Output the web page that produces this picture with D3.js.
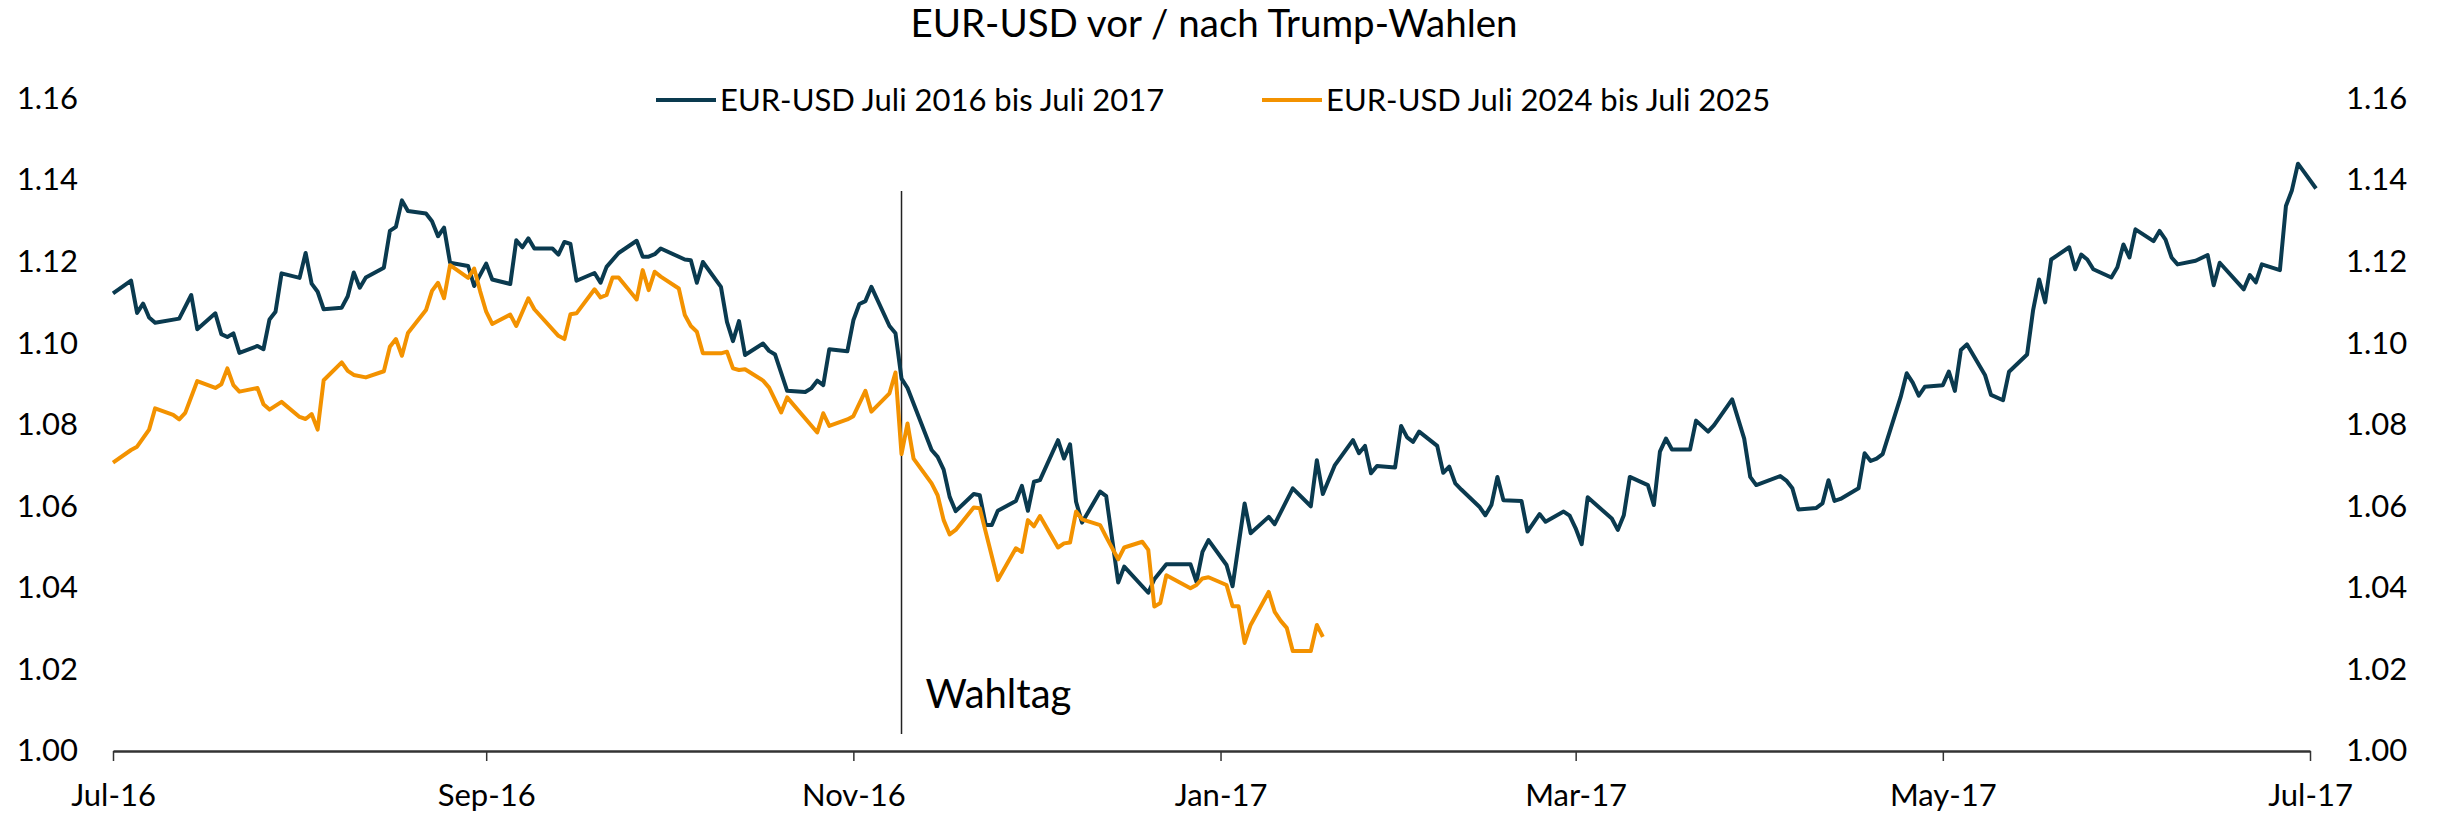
<!DOCTYPE html>
<html>
<head>
<meta charset="utf-8">
<script src="https://cdn.jsdelivr.net/npm/d3@7"></script>
<style>
  body { margin: 0; background: #fff; }
  svg { display: block; font-family: Lato, "Open Sans", sans-serif; }
</style>
</head>
<body>
<div id="chart"></div>
<script>
// EUR-USD Juli 2016 bis Juli 2017 (Handelstage)
const dates2016 = [
  "2016-07-01","2016-07-04","2016-07-05","2016-07-06","2016-07-07","2016-07-08","2016-07-12","2016-07-14","2016-07-15","2016-07-18",
  "2016-07-19","2016-07-20","2016-07-21","2016-07-22","2016-07-25","2016-07-26","2016-07-27","2016-07-28","2016-07-29","2016-08-01",
  "2016-08-02","2016-08-03","2016-08-04","2016-08-05","2016-08-08","2016-08-09","2016-08-10","2016-08-11","2016-08-12","2016-08-15",
  "2016-08-16","2016-08-17","2016-08-18","2016-08-19","2016-08-22","2016-08-23","2016-08-24","2016-08-25","2016-08-26","2016-08-29",
  "2016-08-30","2016-09-01","2016-09-02","2016-09-05","2016-09-06","2016-09-07","2016-09-08","2016-09-09","2016-09-12","2016-09-13",
  "2016-09-14","2016-09-15","2016-09-16","2016-09-19","2016-09-20","2016-09-21","2016-09-23","2016-09-26","2016-09-27","2016-09-28",
  "2016-09-29","2016-09-30","2016-10-04","2016-10-05","2016-10-06","2016-10-07","2016-10-10","2016-10-11","2016-10-12","2016-10-13",
  "2016-10-14","2016-10-17","2016-10-18","2016-10-19","2016-10-21","2016-10-24","2016-10-25","2016-10-26","2016-10-27","2016-10-28",
  "2016-10-31","2016-11-01","2016-11-02","2016-11-03","2016-11-04","2016-11-07","2016-11-08","2016-11-09","2016-11-10","2016-11-14",
  "2016-11-15","2016-11-16","2016-11-17","2016-11-18","2016-11-21","2016-11-22","2016-11-23","2016-11-24","2016-11-25","2016-11-28",
  "2016-11-29","2016-11-30","2016-12-01","2016-12-02","2016-12-05","2016-12-06","2016-12-07","2016-12-08","2016-12-09","2016-12-12",
  "2016-12-13","2016-12-15","2016-12-16","2016-12-20","2016-12-21","2016-12-23","2016-12-27","2016-12-28","2016-12-29","2016-12-30",
  "2017-01-02","2017-01-03","2017-01-05","2017-01-06","2017-01-09","2017-01-10","2017-01-13","2017-01-16","2017-01-17","2017-01-18",
  "2017-01-20","2017-01-23","2017-01-24","2017-01-25","2017-01-26","2017-01-27","2017-01-30","2017-01-31","2017-02-01","2017-02-02",
  "2017-02-03","2017-02-06","2017-02-07","2017-02-08","2017-02-09","2017-02-10","2017-02-13","2017-02-14","2017-02-15","2017-02-16",
  "2017-02-17","2017-02-20","2017-02-21","2017-02-23","2017-02-24","2017-02-27","2017-02-28","2017-03-01","2017-03-02","2017-03-03",
  "2017-03-07","2017-03-08","2017-03-09","2017-03-10","2017-03-13","2017-03-14","2017-03-15","2017-03-16","2017-03-17","2017-03-20",
  "2017-03-21","2017-03-23","2017-03-24","2017-03-27","2017-03-29","2017-03-30","2017-03-31","2017-04-04","2017-04-05","2017-04-06",
  "2017-04-07","2017-04-10","2017-04-11","2017-04-12","2017-04-13","2017-04-14","2017-04-17","2017-04-18","2017-04-19","2017-04-20",
  "2017-04-21","2017-04-24","2017-04-25","2017-04-26","2017-04-27","2017-04-28","2017-05-01","2017-05-02","2017-05-03","2017-05-04",
  "2017-05-05","2017-05-08","2017-05-09","2017-05-11","2017-05-12","2017-05-15","2017-05-16","2017-05-17","2017-05-18","2017-05-19",
  "2017-05-22","2017-05-23","2017-05-24","2017-05-25","2017-05-26","2017-05-29","2017-05-30","2017-05-31","2017-06-01","2017-06-02",
  "2017-06-05","2017-06-06","2017-06-07","2017-06-08","2017-06-09","2017-06-12","2017-06-14","2017-06-15","2017-06-16","2017-06-20",
  "2017-06-21","2017-06-22","2017-06-23","2017-06-26","2017-06-27","2017-06-28","2017-06-29","2017-06-30","2017-07-02"
];
const values2016 = [
  1.1122,1.1153,1.1074,1.1097,1.1063,1.1050,1.1060,1.1118,1.1034,1.1073,
  1.1022,1.1015,1.1024,1.0976,1.0993,1.0985,1.1058,1.1077,1.1171,1.1160,
  1.1221,1.1146,1.1126,1.1083,1.1087,1.1115,1.1173,1.1136,1.1161,1.1185,
  1.1275,1.1285,1.1350,1.1324,1.1318,1.1299,1.1262,1.1283,1.1197,1.1189,
  1.1140,1.1195,1.1156,1.1145,1.1252,1.1235,1.1257,1.1232,1.1232,1.1217,
  1.1248,1.1243,1.1153,1.1172,1.1148,1.1187,1.1221,1.1251,1.1212,1.1212,
  1.1218,1.1232,1.1205,1.1203,1.1148,1.1199,1.1138,1.1052,1.1005,1.1054,
  1.0971,1.0999,1.0981,1.0972,1.0883,1.0880,1.0889,1.0908,1.0897,1.0985,
  1.0980,1.1056,1.1096,1.1103,1.1138,1.1042,1.1024,1.0913,1.0890,1.0738,
  1.0721,1.0690,1.0623,1.0588,1.0630,1.0627,1.0554,1.0554,1.0589,1.0613,
  1.0650,1.0589,1.0660,1.0664,1.0762,1.0717,1.0752,1.0611,1.0560,1.0636,
  1.0625,1.0413,1.0452,1.0388,1.0421,1.0458,1.0458,1.0415,1.0488,1.0517,
  1.0456,1.0404,1.0607,1.0534,1.0574,1.0556,1.0644,1.0600,1.0713,1.0630,
  1.0701,1.0762,1.0730,1.0748,1.0681,1.0699,1.0695,1.0797,1.0769,1.0758,
  1.0783,1.0748,1.0682,1.0697,1.0656,1.0641,1.0599,1.0578,1.0603,1.0672,
  1.0615,1.0613,1.0538,1.0581,1.0562,1.0587,1.0577,1.0546,1.0507,1.0622,
  1.0570,1.0542,1.0578,1.0672,1.0652,1.0603,1.0734,1.0766,1.0739,1.0739,
  1.0810,1.0783,1.0799,1.0862,1.0766,1.0672,1.0652,1.0674,1.0663,1.0644,
  1.0592,1.0596,1.0607,1.0664,1.0613,1.0618,1.0644,1.0730,1.0711,1.0717,
  1.0728,1.0868,1.0926,1.0903,1.0871,1.0893,1.0897,1.0930,1.0883,1.0983,
  1.0997,1.0922,1.0873,1.0860,1.0930,1.0972,1.1081,1.1156,1.1100,1.1205,
  1.1235,1.1181,1.1217,1.1205,1.1181,1.1161,1.1186,1.1242,1.1210,1.1279,
  1.1250,1.1275,1.1254,1.1210,1.1193,1.1202,1.1216,1.1142,1.1197,1.1132,
  1.1167,1.1149,1.1193,1.1179,1.1336,1.1375,1.1440,1.1420,1.1379
];

// EUR-USD Juli 2024 bis Juli 2025 (bisher bis Mitte Januar)
const dates2024 = [
  "2024-07-01","2024-07-04","2024-07-05","2024-07-07","2024-07-08","2024-07-11","2024-07-12","2024-07-13","2024-07-15","2024-07-18",
  "2024-07-19","2024-07-20","2024-07-21","2024-07-22","2024-07-25","2024-07-26","2024-07-27","2024-07-29","2024-08-01","2024-08-02",
  "2024-08-03","2024-08-04","2024-08-05","2024-08-08","2024-08-09","2024-08-10","2024-08-12","2024-08-15","2024-08-16","2024-08-17",
  "2024-08-18","2024-08-19","2024-08-22","2024-08-23","2024-08-24","2024-08-25","2024-08-26","2024-08-29","2024-08-30","2024-08-31",
  "2024-09-01","2024-09-02","2024-09-05","2024-09-06","2024-09-08","2024-09-09","2024-09-13","2024-09-14","2024-09-15","2024-09-16",
  "2024-09-19","2024-09-20","2024-09-21","2024-09-22","2024-09-23","2024-09-26","2024-09-27","2024-09-28","2024-09-29","2024-09-30",
  "2024-10-03","2024-10-04","2024-10-05","2024-10-06","2024-10-07","2024-10-10","2024-10-11","2024-10-12","2024-10-13","2024-10-14",
  "2024-10-17","2024-10-18","2024-10-20","2024-10-21","2024-10-26","2024-10-27","2024-10-28","2024-10-31","2024-11-01","2024-11-03",
  "2024-11-04","2024-11-07","2024-11-08","2024-11-09","2024-11-10","2024-11-11","2024-11-14","2024-11-15","2024-11-16","2024-11-17",
  "2024-11-18","2024-11-21","2024-11-22","2024-11-25","2024-11-28","2024-11-29","2024-11-30","2024-12-01","2024-12-02","2024-12-05",
  "2024-12-06","2024-12-07","2024-12-08","2024-12-09","2024-12-12","2024-12-13","2024-12-15","2024-12-16","2024-12-19","2024-12-20",
  "2024-12-21","2024-12-22","2024-12-23","2024-12-27","2024-12-28","2024-12-29","2024-12-30","2025-01-02","2025-01-03","2025-01-04",
  "2025-01-05","2025-01-06","2025-01-09","2025-01-10","2025-01-11","2025-01-12","2025-01-13","2025-01-16","2025-01-17","2025-01-18"
];
const values2024 = [
  1.0707,1.0738,1.0746,1.0788,1.0840,1.0824,1.0813,1.0829,1.0907,1.0890,
  1.0899,1.0938,1.0897,1.0881,1.0890,1.0850,1.0837,1.0856,1.0819,1.0814,
  1.0826,1.0788,1.0909,1.0953,1.0932,1.0922,1.0916,1.0931,1.0991,1.1010,
  1.0969,1.1025,1.1081,1.1128,1.1148,1.1110,1.1191,1.1160,1.1183,1.1127,
  1.1077,1.1047,1.1070,1.1042,1.1110,1.1083,1.1018,1.1010,1.1071,1.1073,
  1.1132,1.1112,1.1118,1.1161,1.1161,1.1107,1.1179,1.1130,1.1175,1.1163,
  1.1134,1.1069,1.1042,1.1028,1.0975,1.0975,1.0979,1.0938,1.0934,1.0936,
  1.0908,1.0891,1.0830,1.0867,1.0781,1.0828,1.0797,1.0813,1.0821,1.0883,
  1.0832,1.0877,1.0928,1.0728,1.0803,1.0717,1.0656,1.0627,1.0566,1.0531,
  1.0542,1.0597,1.0595,1.0419,1.0497,1.0488,1.0566,1.0551,1.0576,1.0499,
  1.0509,1.0511,1.0587,1.0568,1.0554,1.0525,1.0470,1.0499,1.0513,1.0493,
  1.0354,1.0363,1.0431,1.0399,1.0407,1.0423,1.0426,1.0407,1.0355,1.0355,
  1.0265,1.0309,1.0390,1.0341,1.0319,1.0302,1.0245,1.0245,1.0309,1.0280
];

const seriesNames = ["EUR-USD Juli 2016 bis Juli 2017", "EUR-USD Juli 2024 bis Juli 2025"];
const seriesColors = ["#0a3a4f", "#f39200"];
const yTicks = [1.00, 1.02, 1.04, 1.06, 1.08, 1.10, 1.12, 1.14, 1.16];
const xTickLabels = ["Jul-16", "Sep-16", "Nov-16", "Jan-17", "Mar-17", "May-17", "Jul-17"];
const electionDay = "2016-11-09";
const chartTitle = "EUR-USD vor / nach Trump-Wahlen";

const width = 2438;
const height = 815;

const parse = d3.timeParse("%Y-%m-%d");
const series2016 = dates2016.map((d, i) => ({ date: parse(d), value: values2016[i] }));
// 2024er Werte auf die Zeitachse 2016/17 legen
const series2024 = dates2024.map((d, i) => ({ date: d3.timeYear.offset(parse(d), -8), value: values2024[i] }));

const svg = d3.select("#chart")
    .append("svg")
    .attr("width", width)
    .attr("height", height);

const x = d3.scaleTime()
    .domain([parse("2016-07-01"), parse("2017-07-01")])
    .range([113, 2310]);

const y = d3.scaleLinear()
    .domain([1.00, 1.16])
    .range([751, 98.4]);

// Title
svg.append("text")
    .attr("x", 1214)
    .attr("y", 37)
    .attr("text-anchor", "middle")
    .attr("font-size", 38.5)
    .attr("fill", "#000")
    .text(chartTitle);

// Legend
const legendX = [656, 1262];
seriesNames.forEach((name, i) => {
    const g = svg.append("g").attr("transform", `translate(${legendX[i]}, 100)`);
    g.append("line")
        .attr("x1", 0).attr("x2", 60)
        .attr("stroke", seriesColors[i])
        .attr("stroke-width", 4);
    g.append("text")
        .attr("x", 64)
        .attr("y", 11)
        .attr("font-size", 31)
        .text(name);
});

// y axes (left and right, labels only)
const yLeft = d3.axisLeft(y).tickValues(yTicks).tickFormat(d3.format(".2f")).tickSize(0).tickPadding(35);
svg.append("g")
    .attr("transform", "translate(113, 0)")
    .call(yLeft)
    .call(g => g.select(".domain").remove())
    .selectAll("text")
    .attr("font-size", 31)
    .attr("font-family", "Lato, sans-serif")
    .attr("fill", "#000");

const yRight = d3.axisRight(y).tickValues(yTicks).tickFormat(d3.format(".2f")).tickSize(0).tickPadding(36);
svg.append("g")
    .attr("transform", "translate(2310, 0)")
    .call(yRight)
    .call(g => g.select(".domain").remove())
    .selectAll("text")
    .attr("font-size", 31)
    .attr("font-family", "Lato, sans-serif")
    .attr("fill", "#000");

// x axis
const xTicks = d3.timeMonth.every(2).range(parse("2016-07-01"), parse("2017-07-02"));
const xAxis = d3.axisBottom(x)
    .tickValues(xTicks)
    .tickFormat((d, i) => xTickLabels[i])
    .tickSizeInner(10)
    .tickSizeOuter(0)
    .tickPadding(23);
const xg = svg.append("g")
    .attr("transform", "translate(0, 751)")
    .call(xAxis);
xg.select(".domain").attr("stroke", "#333").attr("stroke-width", 2.5);
xg.selectAll(".tick line").attr("stroke", "#333").attr("stroke-width", 1.5);
xg.selectAll("text")
    .attr("font-size", 31)
    .attr("font-family", "Lato, sans-serif")
    .attr("fill", "#000");

// election day marker
svg.append("line")
    .attr("x1", x(parse(electionDay)))
    .attr("x2", x(parse(electionDay)))
    .attr("y1", 191)
    .attr("y2", 734)
    .attr("stroke", "#222")
    .attr("stroke-width", 1.5);

svg.append("text")
    .attr("x", x(parse(electionDay)) + 24)
    .attr("y", 708)
    .attr("font-size", 40)
    .text("Wahltag");

// lines
const line = d3.line()
    .x(d => x(d.date))
    .y(d => y(d.value));

[series2016, series2024].forEach((data, i) => {
    svg.append("path")
        .datum(data)
        .attr("fill", "none")
        .attr("stroke", seriesColors[i])
        .attr("stroke-width", 4)
        .attr("stroke-linejoin", "round")
        .attr("d", line);
});
</script>
</body>
</html>
